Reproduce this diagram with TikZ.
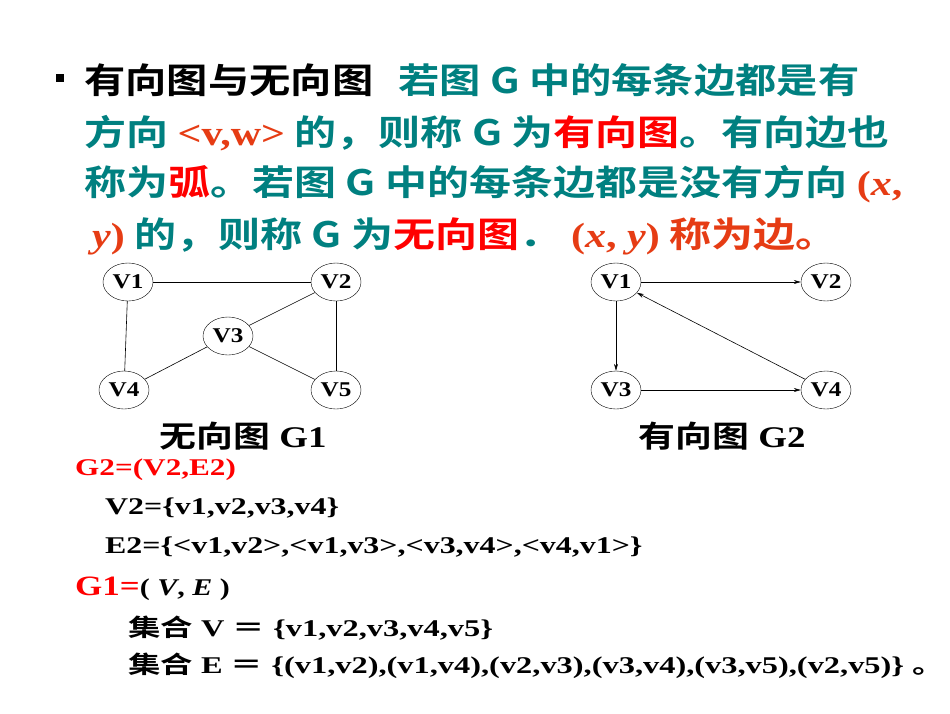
\documentclass[tikz,border=0pt]{standalone}
\usepackage{fontspec}
\setmainfont{Liberation Serif}
\newfontfamily\cjk{Noto Sans CJK SC}[BoldFont=* Bold]
\usetikzlibrary{shapes.geometric,arrows.meta}
\definecolor{teal2}{RGB}{0,128,128}
\definecolor{red2}{RGB}{255,0,0}
\definecolor{ored}{RGB}{230,60,20}
\newcommand{\C}[1]{{\cjk\bfseries #1}}
\newcommand{\SX}[2]{\scalebox{#1}[1]{#2}}
\begin{document}
\begin{tikzpicture}[x=1pt,y=-1pt,
  vtx/.style={draw,ellipse,minimum width=50pt,minimum height=38pt,inner sep=0pt,font=\fontsize{21}{21}\selectfont\bfseries},
  ln/.style={anchor=west,inner sep=0pt,font=\fontsize{35}{35}\selectfont\cjk\bfseries,text=teal2},
  sm/.style={anchor=west,inner sep=0pt,font=\fontsize{24}{24}\selectfont\bfseries},
  edge/.style={line width=0.6pt},
  arc/.style={line width=0.6pt,-{Stealth[length=7pt,width=4pt]}}]
\useasboundingbox (0,0) rectangle (950,713);
\fill[white] (0,0) rectangle (950,713);
\node[fill=black,minimum size=8pt,inner sep=0pt] (bul) at (60,78) {};
\node[ln] (l1) at (84,80) {\SX{1.18}{\textcolor{black}{有向图与无向图}\hspace{0.6em}若图 G 中的每条边都是有}};
\node[ln] (l2) at (84,133) {\SX{1.2}{方向 {\rmfamily\textcolor{ored}{<v,w>}} 的，则称 G 为\textcolor{red2}{有向图}。有向边也}};
\node[ln] (l3) at (84,184) {\SX{1.2}{称为\textcolor{red2}{弧}。若图 G 中的每条边都是没有方向 {\rmfamily\textcolor{ored}{(\textit{x},}}}};
\node[ln] (l4) at (92,236) {\SX{1.2}{{\rmfamily\textcolor{ored}{\textit{y})}} 的，则称 G 为\textcolor{red2}{无向图}． {\rmfamily\textcolor{ored}{(\textit{x}, \textit{y})}} \textcolor{ored}{称为边。}}};
% G1
\node[vtx] (a1) at (128,282) {\SX{1.2}{V1}};
\node[vtx] (a2) at (336,282) {\SX{1.2}{V2}};
\node[vtx] (a3) at (228,336) {\SX{1.2}{V3}};
\node[vtx] (a4) at (124,390) {\SX{1.2}{V4}};
\node[vtx] (a5) at (336,390) {\SX{1.2}{V5}};
\draw[edge] (a1)--(a2); \draw[edge] (a1)--(a4); \draw[edge] (a2)--(a3);
\draw[edge] (a2)--(a5); \draw[edge] (a3)--(a4); \draw[edge] (a3)--(a5);
\node[inner sep=0pt,font=\fontsize{30}{30}\selectfont\bfseries] (t1) at (243,436) {\SX{1.23}{\C{无向图} G1}};
% G2
\node[vtx] (b1) at (616,282) {\SX{1.2}{V1}};
\node[vtx] (b2) at (826,282) {\SX{1.2}{V2}};
\node[vtx] (b3) at (616,390) {\SX{1.2}{V3}};
\node[vtx] (b4) at (826,390) {\SX{1.2}{V4}};
\draw[arc] (b1)--(b2); \draw[arc] (b1)--(b3); \draw[arc] (b3)--(b4); \draw[arc] (b4)--(b1);
\node[inner sep=0pt,font=\fontsize{30}{30}\selectfont\bfseries] (t2) at (722,436) {\SX{1.23}{\C{有向图} G2}};
% bottom
\node[sm,text=red2] (g2) at (75,470) {\SX{1.3}{G2=(V2,E2)}};
\node[sm] (v2) at (105,508) {\SX{1.33}{V2=\{v1,v2,v3,v4\}}};
\node[sm] (e2) at (105,547) {\SX{1.33}{E2=\{<v1,v2>,<v1,v3>,<v3,v4>,<v4,v1>\}}};
\node[sm] (g1) at (75,589) {\SX{1.25}{\fontsize{28}{28}\selectfont\textcolor{red2}{G1=}\fontsize{24}{24}\selectfont( \textit{V}, \textit{E} )}};
\node[sm] (v1) at (128,628) {\SX{1.35}{\C{集合} V \C{＝} \{v1,v2,v3,v4,v5\}}};
\node[sm] (e1) at (128,666) {\SX{1.35}{\C{集合} E \C{＝} \{(v1,v2),(v1,v4),(v2,v3),(v3,v4),(v3,v5),(v2,v5)\} \C{。}}};
\end{tikzpicture}
\end{document}
